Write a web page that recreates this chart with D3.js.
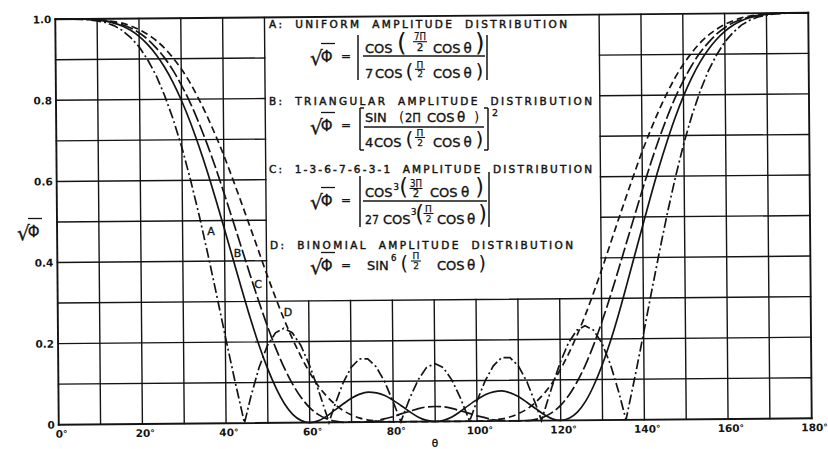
<!DOCTYPE html>
<html>
<head>
<meta charset="utf-8">
<script src="https://cdn.jsdelivr.net/npm/d3@7"></script>
<style>
  html, body { margin: 0; padding: 0; background: #fff; }
  svg { display: block; }
  text { font-family: "DejaVu Sans", sans-serif; fill: #141414; }
</style>
</head>
<body>
<svg id="chart" width="828" height="449"></svg>
<script>
// ---- angle grid (degrees) shared by curves B, C, D ----
const thetaGrid = [0,2,4,6,8,10,12,14,16,18,20,22,24,26,28,30,32,34,36,38,40,42,44,46,48,50,52,54,56,58,60,62,64,66,68,70,72,74,76,78,80,82,84,86,88,90,92,94,96,98,100,102,104,106,108,110,112,114,116,118,120,122,124,126,128,130,132,134,136,138,140,142,144,146,148,150,152,154,156,158,160,162,164,166,168,170,172,174,176,178,180];

// A: uniform amplitude distribution (own angle list, includes the nulls)
const thetaUniform = [0,2,4,6,8,10,12,14,16,18,20,22,24,26,28,30,32,34,36,38,40,42,44,44.4,46,48,50,52,54,56,58,60,62,64,64.6,66,68,70,72,74,76,78,80,81.8,82,84,86,88,90,92,94,96,98,98.2,100,102,104,106,108,110,112,114,115.4,116,118,120,122,124,126,128,130,132,134,135.6,136,138,140,142,144,146,148,150,152,154,156,158,160,162,164,166,168,170,172,174,176,178,180];
const uniformValues = [1.000,1.000,1.000,0.999,0.998,0.995,0.991,0.983,0.971,0.953,0.930,0.898,0.859,0.809,0.750,0.681,0.601,0.513,0.417,0.317,0.214,0.114,0.019,0.000,0.066,0.137,0.190,0.222,0.233,0.222,0.191,0.143,0.084,0.020,0.000,0.042,0.096,0.135,0.156,0.156,0.136,0.099,0.049,0.000,0.006,0.059,0.103,0.133,0.143,0.133,0.103,0.059,0.006,0.000,0.049,0.099,0.136,0.156,0.156,0.135,0.096,0.042,0.000,0.020,0.084,0.143,0.191,0.222,0.233,0.222,0.190,0.137,0.066,0.000,0.019,0.114,0.214,0.317,0.417,0.513,0.601,0.681,0.750,0.809,0.859,0.898,0.930,0.953,0.971,0.983,0.991,0.995,0.998,0.999,1.000,1.000,1.000];

// B: triangular amplitude distribution
const triangularValues = [1.000,1.000,1.000,1.000,0.999,0.997,0.994,0.989,0.982,0.971,0.956,0.936,0.911,0.880,0.842,0.797,0.745,0.686,0.622,0.552,0.479,0.405,0.331,0.259,0.193,0.135,0.086,0.047,0.020,0.005,0.000,0.004,0.015,0.030,0.045,0.059,0.069,0.074,0.072,0.065,0.053,0.039,0.024,0.011,0.003,0.000,0.003,0.011,0.024,0.039,0.053,0.065,0.072,0.074,0.069,0.059,0.045,0.030,0.015,0.004,0.000,0.005,0.020,0.047,0.086,0.135,0.193,0.259,0.331,0.405,0.479,0.552,0.622,0.686,0.745,0.797,0.842,0.880,0.911,0.936,0.956,0.971,0.982,0.989,0.994,0.997,0.999,1.000,1.000,1.000,1.000];

// C: 1-3-6-7-6-3-1 amplitude distribution
const weighted1367Values = [1.000,1.000,1.000,1.000,0.999,0.998,0.995,0.991,0.985,0.977,0.965,0.949,0.928,0.903,0.872,0.835,0.793,0.744,0.690,0.631,0.567,0.501,0.434,0.367,0.302,0.241,0.185,0.136,0.095,0.062,0.037,0.020,0.009,0.003,0.000,0.000,0.000,0.001,0.003,0.008,0.013,0.020,0.026,0.032,0.036,0.037,0.036,0.032,0.026,0.020,0.013,0.008,0.003,0.001,0.000,0.000,0.000,0.003,0.009,0.020,0.037,0.062,0.095,0.136,0.185,0.241,0.302,0.367,0.434,0.501,0.567,0.631,0.690,0.744,0.793,0.835,0.872,0.903,0.928,0.949,0.965,0.977,0.985,0.991,0.995,0.998,0.999,1.000,1.000,1.000,1.000];

// D: binomial amplitude distribution
const binomialValues = [1.000,1.000,1.000,1.000,0.999,0.998,0.996,0.993,0.989,0.982,0.973,0.961,0.946,0.927,0.903,0.875,0.842,0.803,0.760,0.712,0.661,0.605,0.547,0.488,0.428,0.368,0.311,0.257,0.208,0.164,0.125,0.092,0.066,0.045,0.029,0.018,0.010,0.005,0.003,0.001,0.000,0.000,0.000,0.000,0.000,0.000,0.000,0.000,0.000,0.000,0.000,0.001,0.003,0.005,0.010,0.018,0.029,0.045,0.066,0.092,0.125,0.164,0.208,0.257,0.311,0.368,0.428,0.488,0.547,0.605,0.661,0.712,0.760,0.803,0.842,0.875,0.903,0.927,0.946,0.961,0.973,0.982,0.989,0.993,0.996,0.998,0.999,1.000,1.000,1.000,1.000];

// axes
const xTickValues = [0,20,40,60,80,100,120,140,160,180];
const xTickLabels = ["0","20","40","60","80","100","120","140","160","180"];
const yTickValues = [0,0.2,0.4,0.6,0.8,1.0];
const yTickLabels = ["0","0.2","0.4","0.6","0.8","1.0"];
const gridDegrees = [0,10,20,30,40,50,60,70,80,90,100,110,120,130,140,150,160,170,180];
const gridLevels = [0,0.1,0.2,0.3,0.4,0.5,0.6,0.7,0.8,0.9,1.0];

// ---------------------------------------------------------------
const svg = d3.select("#chart");
const ink = "#141414";

// the printed sheet sits very slightly tilted
const plot = svg.append("g").attr("transform", "rotate(-0.49,433.5,218.75)");

const x = d3.scaleLinear().domain([0, 180]).range([57, 810]);
const y = d3.scaleLinear().domain([0, 1]).range([421.5, 16]);

// legend panel: grid is left blank from 50° to 130°, above 0.3
const panelFrom = 50, panelTo = 130, panelBottom = 0.3;

const grid = plot.append("g").attr("stroke", ink).attr("fill", "none").attr("stroke-linecap", "square");
gridDegrees.forEach(d => {
  const top = (d > panelFrom && d < panelTo) ? panelBottom : 1;
  grid.append("line")
    .attr("x1", x(d)).attr("x2", x(d))
    .attr("y1", y(0)).attr("y2", y(top))
    .attr("stroke-width", (d === 0 || d === 180) ? 1.9 : 1.4);
});
gridLevels.forEach(v => {
  const spans = (v > panelBottom && v < 1) ? [[0, panelFrom], [panelTo, 180]] : [[0, 180]];
  spans.forEach(([a, b]) => {
    grid.append("line")
      .attr("x1", x(a)).attr("x2", x(b))
      .attr("y1", y(v)).attr("y2", y(v))
      .attr("stroke-width", (v === 0 || v === 1) ? 1.9 : 1.4);
  });
});

// pattern curves
const series = [
  { theta: thetaUniform, values: uniformValues, dash: "10,3,2,3", curve: d3.curveLinear },
  { theta: thetaGrid, values: triangularValues, dash: null, curve: d3.curveMonotoneX },
  { theta: thetaGrid, values: weighted1367Values, dash: "13,3.5", curve: d3.curveMonotoneX },
  { theta: thetaGrid, values: binomialValues, dash: "7,4", curve: d3.curveMonotoneX }
];
series.forEach(s => {
  const pts = s.theta.map((t, i) => [t, s.values[i]]);
  const line = d3.line().x(d => x(d[0])).y(d => y(d[1])).curve(s.curve);
  plot.append("path")
    .attr("d", line(pts))
    .attr("fill", "none")
    .attr("stroke", ink)
    .attr("stroke-width", 1.7)
    .attr("stroke-dasharray", s.dash);
});

// tick labels
const tickFont = 10.5;
xTickValues.forEach((v, i) => {
  const t = plot.append("text")
    .attr("x", x(v) + 0.5).attr("y", y(0) + 13)
    .attr("text-anchor", "middle")
    .attr("font-size", tickFont).attr("font-weight", "bold")
    .text(xTickLabels[i]);
  const w = t.node().getComputedTextLength();
  plot.append("text")
    .attr("x", x(v) + 0.5 + w / 2).attr("y", y(0) + 12)
    .attr("font-size", 9).attr("font-weight", "bold")
    .text("°");
});
yTickValues.forEach((v, i) => {
  plot.append("text")
    .attr("x", x(0) - 4).attr("y", y(v) + 4)
    .attr("text-anchor", "end")
    .attr("font-size", tickFont).attr("font-weight", "bold")
    .text(yTickLabels[i]);
});

// ---------------------------------------------------------------
// lettering
const lay = svg.append("g");
function put(str, x0, base, size, len, squeeze) {
  const t = lay.append("text").attr("x", x0).attr("y", base).attr("font-size", size)
    .attr("stroke", ink).attr("stroke-width", 0.35).text(str);
  if (len) t.attr("textLength", len).attr("lengthAdjust", squeeze ? "spacingAndGlyphs" : "spacing");
  return t;
}
function title(str, x0, base, len) {
  return put(str, x0, base, 10.5, len).attr("word-spacing", 5).attr("stroke-width", 0.45);
}
function rule(x1, y1, x2, y2, w) {
  lay.append("line").attr("x1", x1).attr("y1", y1).attr("x2", x2).attr("y2", y2)
    .attr("stroke", ink).attr("stroke-width", w || 1.3);
}
function paren(ch, inkLeft, top, bottom) {
  const s = (bottom - top) / 0.89;
  put(ch, inkLeft - 0.08 * s, top + 0.76 * s, s).attr("stroke-width", 0);
}
function smallFrac(topStr, cx, barY, size, w, topLen) {
  const t = put(topStr, cx, barY - 1.6, size).attr("text-anchor", "middle").attr("stroke-width", 0.25);
  if (topLen) t.attr("textLength", topLen).attr("lengthAdjust", "spacingAndGlyphs");
  rule(cx - w / 2, barY, cx + w / 2, barY, 1.1);
  put("2", cx, barY + 0.73 * size + 1.6, size).attr("text-anchor", "middle").attr("stroke-width", 0.25);
}
function rootPhi(x0, c) {
  const t = lay.append("text").attr("x", x0 - 1).attr("y", c + 9).attr("stroke", ink).attr("stroke-width", 0.3);
  t.append("tspan").attr("font-size", 20).text("√");
  t.append("tspan").attr("font-size", 15).attr("dx", -2).attr("dy", -3.5).text("Φ");
  rule(x0 + 10, c - 12.5, x0 + 24, c - 12.5, 1.3);
}

// curve labels
put("A", 211, 235, 11).attr("text-anchor", "middle");
put("B", 237.5, 257, 11).attr("text-anchor", "middle");
put("C", 258, 288, 11).attr("text-anchor", "middle");
put("D", 288, 316, 11).attr("text-anchor", "middle");

// axis titles
put("θ", 435, 446.5, 10.5).attr("text-anchor", "middle");
rootPhi(18, 231);

// titles
title("A: UNIFORM AMPLITUDE DISTRIBUTION", 269, 27.5, 298);
title("B: TRIANGULAR AMPLITUDE DISTRIBUTION", 269, 105, 323);
title("C: 1-3-6-7-6-3-1 AMPLITUDE DISTRIBUTION", 269, 173, 323);
title("D: BINOMIAL AMPLITUDE DISTRIBUTION", 270, 249, 303);

const fs = 13, th = 13.5, eq = 12;

// A
rootPhi(311, 56); put("=", 341, 60.4, eq);
rule(358, 35, 358, 80, 1.5); rule(487, 35, 487, 80, 1.5);
rule(363, 56, 485, 56, 1.3);
put("COS", 365, 53, fs);
paren("(", 399, 32, 54); smallFrac("7Π", 420, 41.7, 10.5, 14, 12); put("COS", 433, 53, fs); put("θ", 463.5, 53, th); paren(")", 477, 32, 54);
put("7", 365, 78, fs); put("COS", 375, 78, fs);
paren("(", 407, 63, 81); smallFrac("Π", 420, 69.3, 9, 10); put("COS", 433, 78, fs); put("θ", 463.5, 78, th); paren(")", 477, 63, 81);

// B
rootPhi(311, 125); put("=", 341, 129.4, eq);
rule(360, 108, 360, 150, 1.5); rule(360, 108, 364, 108, 1.5); rule(360, 150, 364, 150, 1.5);
rule(488, 108, 488, 150, 1.5); rule(484, 108, 488, 108, 1.5); rule(484, 150, 488, 150, 1.5);
put("2", 492, 116, 9.5);
rule(364, 127, 484, 127, 1.3);
put("SIN", 365, 122, fs);
paren("(", 400, 112, 124); put("2Π", 405, 122, fs, 16, true); put("COS", 427, 122, fs); put("θ", 457, 122, th); paren(")", 475, 112, 124);
put("4", 365, 147, fs); put("COS", 374, 147, fs);
paren("(", 407, 131, 149); smallFrac("Π", 420, 137.5, 9, 10); put("COS", 433, 147, fs); put("θ", 463.5, 147, th); paren(")", 477, 131, 149);

// C
rootPhi(311, 200); put("=", 341, 204.4, eq);
rule(360, 176, 360, 227, 1.5); rule(489, 172, 489, 227, 1.5);
rule(363, 201, 487, 201, 1.3);
put("COS", 365, 197, fs); put("3", 393.5, 189.5, 8.5);
paren("(", 401, 178, 198); smallFrac("3Π", 416, 188.5, 10, 13, 12); put("COS", 430, 197, fs); put("θ", 461, 197, th); paren(")", 477, 178, 198);
put("27", 365, 224, fs, 14, true); put("COS", 383, 224, fs); put("3", 411, 214.5, 8.5);
paren("(", 417, 205, 225); smallFrac("Π", 428.5, 213.5, 9, 10); put("COS", 437, 224, fs); put("θ", 467, 224, th); paren(")", 480, 205, 225);

// D
rootPhi(311, 265); put("=", 341, 269.4, eq);
put("SIN", 367, 270, fs); put("6", 391, 261, 8.5);
paren("(", 402, 255, 272); smallFrac("Π", 416, 261, 9, 10); put("COS", 437, 270, fs); put("θ", 467, 270, th); paren(")", 480, 255, 272);
</script>
</body>
</html>
